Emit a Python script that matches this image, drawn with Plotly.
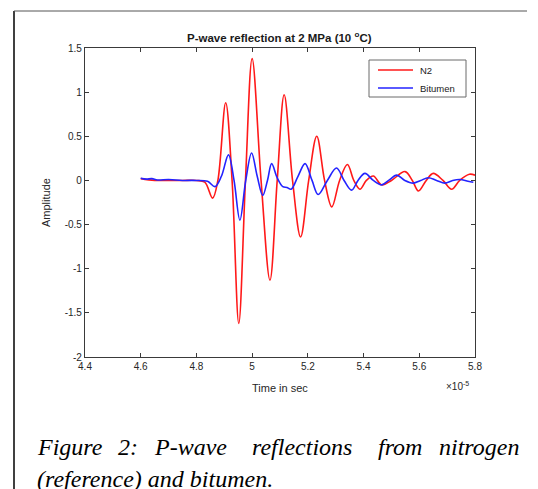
import plotly.graph_objects as go

# ---- data (time in units of 1e-5 s) ----
n2_t = [4.60, 4.65, 4.70, 4.75, 4.80, 4.83, 4.858, 4.877, 4.905, 4.928, 4.952, 4.976,
        5.000, 5.032, 5.064, 5.090, 5.115, 5.145, 5.174, 5.203, 5.232, 5.260, 5.286,
        5.314, 5.342, 5.365, 5.387, 5.410, 5.435, 5.465, 5.500, 5.549, 5.575, 5.597,
        5.625, 5.650, 5.685, 5.716, 5.745, 5.780, 5.800]
n2_a = [0.02, 0.00, 0.00, 0.00, 0.00, -0.02, -0.20, 0.00, 0.88, 0.00, -1.62, 0.00,
        1.38, 0.00, -1.13, 0.00, 0.97, 0.00, -0.64, 0.00, 0.50, 0.00, -0.30,
        0.00, 0.18, 0.00, -0.10, 0.00, 0.05, -0.05, 0.00, 0.10, 0.00, -0.12,
        0.00, 0.08, 0.00, -0.10, 0.00, 0.07, 0.06]

bit_t = [4.60, 4.62, 4.64, 4.66, 4.70, 4.75, 4.80, 4.84, 4.867, 4.890, 4.915, 4.935,
         4.956, 4.977, 4.998, 5.018, 5.038, 5.055, 5.070, 5.090, 5.110, 5.125, 5.140,
         5.165, 5.190, 5.215, 5.237, 5.270, 5.303, 5.330, 5.357, 5.380, 5.405, 5.435,
         5.465, 5.490, 5.519, 5.548, 5.578, 5.605, 5.632, 5.662, 5.692, 5.720, 5.746,
         5.775, 5.794]
bit_a = [0.025, 0.015, 0.02, 0.005, 0.01, 0.00, 0.00, -0.01, -0.07, 0.05, 0.29, 0.00,
         -0.45, 0.00, 0.31, 0.05, -0.17, 0.00, 0.19, 0.03, -0.07, -0.08, -0.10,
         0.05, 0.19, 0.00, -0.16, 0.00, 0.14, 0.00, -0.11, 0.00, 0.08, 0.00,
         -0.05, 0.00, 0.06, 0.00, -0.03, 0.00, 0.03, 0.00, -0.03, 0.00, 0.01,
         -0.01, -0.02]

series_names = ["N2", "Bitumen"]
series_colors = ["rgb(255,25,25)", "rgb(35,35,255)"]

x_ticks = [4.4, 4.6, 4.8, 5.0, 5.2, 5.4, 5.6, 5.8]
x_labels = ["4.4", "4.6", "4.8", "5", "5.2", "5.4", "5.6", "5.8"]
y_ticks = [-2, -1.5, -1, -0.5, 0, 0.5, 1, 1.5]
y_labels = ["-2", "-1.5", "-1", "-0.5", "0", "0.5", "1", "1.5"]

# ---- layout geometry (pixels) ----
W, H = 538, 489
L, R, T, B = 85, 475, 48, 357


def px(xp):
    return (xp - L) / (R - L)


def py(yp):
    return (B - yp) / (B - T)


fig = go.Figure()
fig.add_trace(go.Scatter(x=n2_t, y=n2_a, mode="lines", name=series_names[0], showlegend=False,
                         line=dict(color=series_colors[0], width=1.6, shape="spline", smoothing=1.0)))
fig.add_trace(go.Scatter(x=bit_t, y=bit_a, mode="lines", name=series_names[1], showlegend=False,
                         line=dict(color=series_colors[1], width=1.6, shape="spline", smoothing=1.0)))

axis_common = dict(showgrid=False, zeroline=False, showline=True, linecolor="#3a3a3a", linewidth=1.2,
                   mirror="ticks", ticks="inside", ticklen=4, tickcolor="#3a3a3a",
                   tickfont=dict(family="Liberation Sans, Arial", size=10, color="#262626"))

fig.update_xaxes(range=[4.4, 5.8], tickvals=x_ticks, ticktext=x_labels, **axis_common)
fig.update_yaxes(range=[-2, 1.5], tickvals=y_ticks, ticktext=y_labels, **axis_common)

ann = []
# title
ann.append(dict(text="<b>P-wave reflection at 2 MPa (10 <sup>o</sup>C)</b>", x=px(279), y=py(37),
                font=dict(family="Liberation Sans, Arial", size=11.5, color="#1a1a1a"),
                xanchor="center", yanchor="middle"))
ann.append(dict(text="Time in sec", x=px(280), y=py(388),
                font=dict(family="Liberation Sans, Arial", size=11, color="#262626"),
                xanchor="center", yanchor="middle"))
ann.append(dict(text="Amplitude", x=px(46), y=py(203), textangle=-90,
                font=dict(family="Liberation Sans, Arial", size=11, color="#262626"),
                xanchor="center", yanchor="middle"))
ann.append(dict(text="\u00d710<sup>-5</sup>", x=px(457), y=py(386),
                font=dict(family="Liberation Sans, Arial", size=10, color="#262626"),
                xanchor="center", yanchor="middle"))

# legend (drawn)
leg_rows = [70, 88]
for name, yy in zip(series_names, leg_rows):
    ann.append(dict(text=name, x=px(418), y=py(yy), xanchor="left", yanchor="middle",
                    font=dict(family="Liberation Sans, Arial", size=9.5, color="#1a1a1a")))

# caption words (justified line)
cap_font = dict(family="Liberation Serif, Times New Roman", size=24, color="#000000")
words = [("<i>Figure</i>", 35, "left"), ("<i>2:</i>", 116, "left"), ("<i>P-wave</i>", 152, "left"),
         ("<i>reflections</i>", 250, "left"), ("<i>from</i>", 376, "left"), ("<i>nitrogen</i>", 521, "right")]
for w, xp, anc in words:
    ann.append(dict(text=w, x=px(xp), y=py(447), font=cap_font, xanchor=anc, yanchor="middle"))
ann.append(dict(text="<i>(reference) and bitumen.</i>", x=px(35), y=py(479), font=cap_font,
                xanchor="left", yanchor="middle"))

for a in ann:
    a.update(xref="paper", yref="paper", showarrow=False)

shapes = [
    dict(type="line", xref="paper", yref="paper", x0=px(14), x1=px(14), y0=py(11), y1=py(489),
         line=dict(color="#000000", width=1.5)),
    dict(type="line", xref="paper", yref="paper", x0=px(14), x1=px(527), y0=py(11), y1=py(11),
         line=dict(color="#555555", width=1)),
    # legend box
    dict(type="rect", xref="paper", yref="paper", x0=px(369), x1=px(466), y0=py(60), y1=py(97),
         line=dict(color="#6a6a6a", width=1), fillcolor="white", layer="above"),
]
for col, yy in zip(series_colors, leg_rows):
    shapes.append(dict(type="line", xref="paper", yref="paper", x0=px(378), x1=px(413),
                       y0=py(yy), y1=py(yy), line=dict(color=col, width=1.6), layer="above"))

fig.update_layout(
    width=W, height=H,
    margin=dict(l=L, r=W - R, t=T, b=H - B),
    paper_bgcolor="white", plot_bgcolor="white",
    showlegend=False,
    annotations=ann,
    shapes=shapes,
)

fig.write_html("out.html", config={"displayModeBar": False},
               post_script="document.body.style.margin='0';")
